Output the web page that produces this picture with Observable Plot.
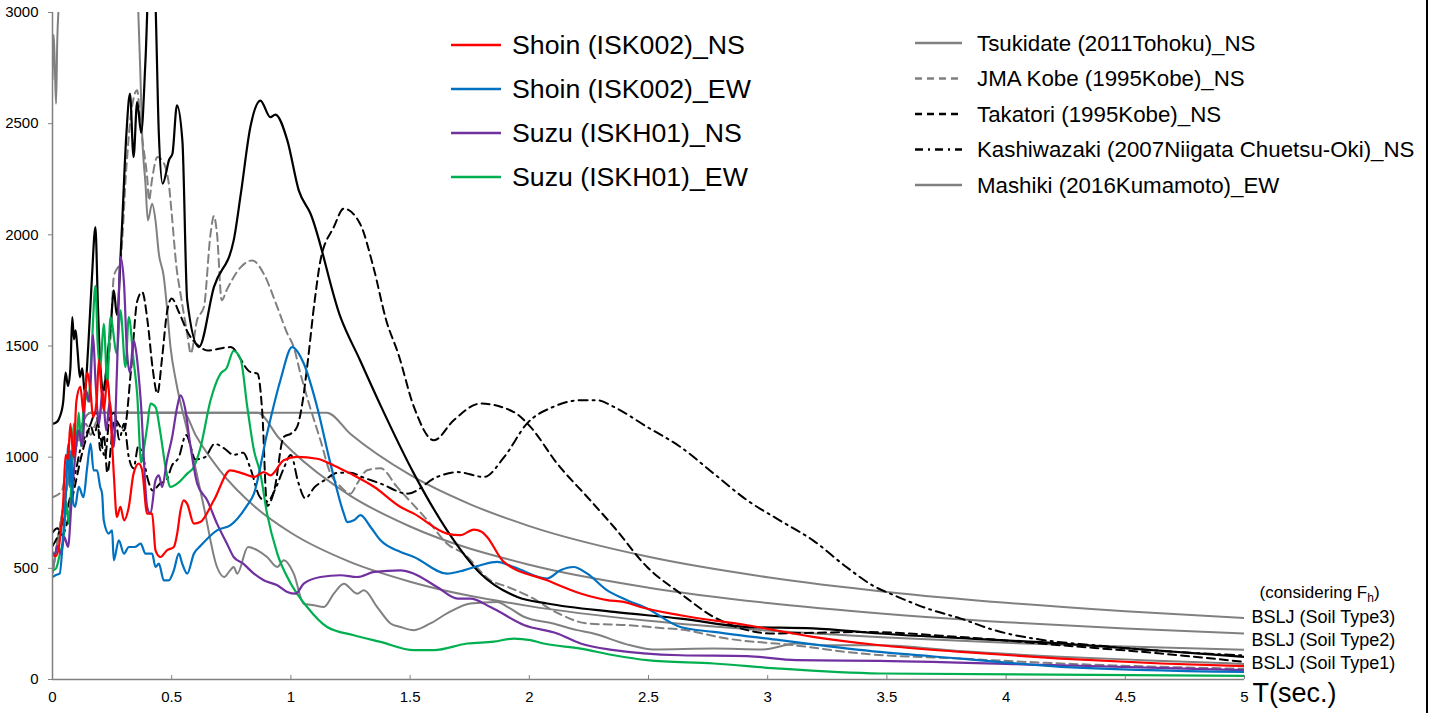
<!DOCTYPE html>
<html><head><meta charset="utf-8">
<script src="https://cdn.jsdelivr.net/npm/d3@7"></script>
<script src="https://cdn.jsdelivr.net/npm/@observablehq/plot@0.6"></script>
<style>
body{margin:0;background:#fff;font-family:"Liberation Sans",Arial,sans-serif;}
#wrap{position:relative;width:1439px;height:713px;overflow:hidden;}
#border{position:absolute;left:1426px;top:0;width:1.5px;height:713px;background:#000;}
</style></head><body><div id="wrap"><div id="border"></div></div>
<script>
// ---- tick values / labels ----
const xTicks = [0,0.5,1,1.5,2,2.5,3,3.5,4,4.5,5];
const yTicks = [0,500,1000,1500,2000,2500,3000];
const xLabel = "T(sec.)";
const bsljLabels = ["BSLJ (Soil Type3)","BSLJ (Soil Type2)","BSLJ (Soil Type1)"];
const bsljLabelY = [279, 177, 73];
const noteLabel = "(considering Fh)";
const noteLabelY = 392;

// ---- series [T (s), Sa (gal)] ----
const shoinNS = [[0,560],[0.015,555],[0.03,620],[0.045,800],[0.055,1010],[0.065,990],[0.075,1150],[0.088,1000],[0.1,1250],[0.117,1316],[0.13,1200],[0.145,1380],[0.16,1290],[0.17,1180],[0.185,1250],[0.195,1440],[0.205,1300],[0.215,1211],[0.23,1350],[0.245,1150],[0.257,926],[0.27,731],[0.285,776],[0.3,716],[0.32,776],[0.34,926],[0.362,971],[0.376,941],[0.397,746],[0.418,746],[0.432,581],[0.453,551],[0.48,581],[0.509,596],[0.523,656],[0.537,760],[0.55,806],[0.565,790],[0.593,701],[0.62,708],[0.677,806],[0.746,941],[0.80,926],[0.845,911],[0.886,933],[0.914,918],[0.97,986],[1.026,1001],[1.11,993],[1.18,963],[1.25,926],[1.35,866],[1.46,776],[1.516,746],[1.655,656],[1.711,649],[1.767,674],[1.80,665],[1.823,641],[1.893,529],[2.075,446],[2.215,387],[2.327,357],[2.396,349],[2.466,326],[2.634,289],[2.914,244],[3.19,192],[3.47,154],[3.81,124],[4.23,94],[4.65,72],[5,60]];
const shoinEW = [[0,461],[0.015,470],[0.03,476],[0.045,650],[0.055,806],[0.067,1061],[0.072,866],[0.078,1031],[0.085,806],[0.095,776],[0.11,866],[0.13,820],[0.145,950],[0.16,1061],[0.172,941],[0.187,941],[0.2,866],[0.208,836],[0.215,716],[0.236,656],[0.25,671],[0.257,536],[0.278,626],[0.3,566],[0.32,596],[0.345,596],[0.37,611],[0.39,566],[0.418,566],[0.432,506],[0.446,521],[0.467,446],[0.488,446],[0.509,491],[0.53,566],[0.544,521],[0.565,476],[0.593,566],[0.62,600],[0.69,671],[0.747,694],[0.817,784],[0.845,836],[0.9,1106],[0.956,1346],[1.005,1495],[1.054,1421],[1.11,1226],[1.166,971],[1.222,746],[1.236,708],[1.264,716],[1.292,739],[1.334,686],[1.376,626],[1.46,574],[1.516,551],[1.655,476],[1.725,491],[1.795,514],[1.865,529],[1.935,506],[2.075,454],[2.13,491],[2.186,506],[2.243,476],[2.327,401],[2.41,357],[2.494,319],[2.634,236],[2.774,214],[3.05,177],[3.47,124],[3.81,94],[4.23,57],[5,34]];
const suzuNS = [[0,574],[0.01,560],[0.02,600],[0.035,566],[0.05,640],[0.065,596],[0.08,800],[0.095,1000],[0.11,1121],[0.125,1050],[0.14,1300],[0.155,1250],[0.17,1550],[0.18,1350],[0.195,1150],[0.21,1300],[0.225,1120],[0.24,1250],[0.257,1046],[0.27,1376],[0.285,1900],[0.3,1780],[0.312,1480],[0.325,1380],[0.34,1526],[0.35,1480],[0.37,1256],[0.397,776],[0.411,746],[0.432,896],[0.446,918],[0.46,866],[0.48,986],[0.502,1091],[0.523,1226],[0.537,1278],[0.555,1226],[0.579,1046],[0.607,881],[0.649,806],[0.69,701],[0.732,611],[0.76,551],[0.8,521],[0.845,476],[0.886,446],[0.943,424],[0.985,394],[1.02,386],[1.054,431],[1.124,461],[1.208,469],[1.278,461],[1.35,484],[1.46,491],[1.516,476],[1.613,416],[1.70,364],[1.753,364],[1.837,326],[1.98,244],[2.117,207],[2.215,162],[2.355,132],[2.634,109],[2.914,105],[3.12,87],[3.47,84],[4.23,64],[5,42]];
const suzuEW = [[0,490],[0.015,500],[0.03,560],[0.048,656],[0.058,800],[0.068,700],[0.08,900],[0.09,1151],[0.1,1076],[0.11,1200],[0.12,1050],[0.135,1300],[0.15,1250],[0.165,1500],[0.18,1770],[0.19,1500],[0.2,1400],[0.215,1600],[0.23,1330],[0.243,1630],[0.27,1466],[0.285,1660],[0.306,1405],[0.32,1630],[0.34,1436],[0.355,1286],[0.372,975],[0.385,1050],[0.397,1136],[0.411,1241],[0.432,1226],[0.453,1106],[0.474,956],[0.495,866],[0.523,881],[0.565,926],[0.593,956],[0.62,1040],[0.663,1256],[0.705,1376],[0.73,1400],[0.76,1478],[0.79,1436],[0.817,1226],[0.845,1031],[0.872,926],[0.9,746],[0.943,566],[1.0,431],[1.068,326],[1.152,236],[1.264,199],[1.376,169],[1.516,132],[1.6,132],[1.74,162],[1.85,170],[1.935,184],[2.005,177],[2.06,162],[2.215,139],[2.355,109],[2.494,87],[2.774,72],[3.05,49],[3.47,27],[5,16]];
const tsukidate = [[0,2700],[0.005,2900],[0.01,2750],[0.015,2590],[0.02,2875],[0.027,3050],[0.06,3800],[0.15,4500],[0.25,4500],[0.33,3600],[0.36,3000],[0.369,2710],[0.376,2455],[0.39,2230],[0.4,2065],[0.418,2140],[0.432,2065],[0.446,1915],[0.467,1810],[0.48,1675],[0.495,1495],[0.52,1330],[0.565,1120],[0.6,950],[0.635,776],[0.69,506],[0.72,461],[0.745,491],[0.76,506],[0.775,476],[0.82,596],[0.86,581],[0.9,551],[0.943,506],[0.97,536],[1.012,476],[1.054,341],[1.096,334],[1.138,326],[1.18,386],[1.222,431],[1.278,386],[1.306,401],[1.362,326],[1.418,252],[1.46,236],[1.516,222],[1.585,252],[1.655,297],[1.753,342],[1.865,349],[1.91,326],[1.98,281],[2.10,252],[2.2,222],[2.257,210],[2.424,154],[2.52,135],[2.774,139],[2.98,135],[3.12,162],[3.25,154],[3.47,154],[3.8,128],[4.2,104],[4.6,86],[5,70]];
const jmaKobe = [[0,820],[0.02,830],[0.04,850],[0.06,950],[0.08,1000],[0.1,1050],[0.12,1100],[0.14,1150],[0.16,1100],[0.18,1150],[0.2,1200],[0.22,1350],[0.243,1526],[0.257,1810],[0.285,1885],[0.31,2305],[0.33,2550],[0.355,2650],[0.37,2485],[0.383,2380],[0.397,2260],[0.405,2155],[0.417,2245],[0.44,2350],[0.46,2335],[0.487,2237],[0.5,2095],[0.52,1855],[0.537,1735],[0.565,1556],[0.58,1466],[0.606,1615],[0.635,1675],[0.663,2005],[0.677,2085],[0.69,2005],[0.71,1705],[0.73,1750],[0.79,1855],[0.838,1885],[0.886,1825],[0.943,1675],[0.985,1556],[1.012,1495],[1.04,1376],[1.08,1226],[1.124,1076],[1.166,926],[1.21,866],[1.25,836],[1.278,881],[1.32,941],[1.376,950],[1.445,866],[1.585,701],[1.655,611],[1.725,566],[1.837,446],[1.91,416],[2.005,371],[2.117,300],[2.243,252],[2.42,244],[2.55,232],[2.634,225],[2.83,184],[3.11,154],[3.39,117],[3.81,94],[4.23,72],[5,48]];
const takatori = [[0,660],[0.02,680],[0.04,650],[0.06,700],[0.08,800],[0.1,900],[0.12,1000],[0.14,1080],[0.16,1140],[0.175,1100],[0.19,1150],[0.2,1030],[0.215,1100],[0.23,930],[0.26,1170],[0.3,1120],[0.33,1400],[0.355,1700],[0.376,1743],[0.4,1600],[0.42,1400],[0.44,1286],[0.46,1450],[0.48,1650],[0.5,1714],[0.53,1653],[0.57,1556],[0.62,1495],[0.65,1480],[0.746,1495],[0.83,1383],[0.86,1376],[0.88,1200],[0.9,780],[0.93,850],[0.97,1091],[1.0,1106],[1.026,1136],[1.05,1256],[1.068,1405],[1.1,1706],[1.124,1885],[1.18,2035],[1.222,2118],[1.29,2050],[1.346,1855],[1.40,1615],[1.45,1466],[1.516,1226],[1.6,1076],[1.683,1166],[1.795,1241],[1.935,1203],[2.005,1136],[2.117,971],[2.243,821],[2.355,686],[2.494,506],[2.634,387],[2.774,281],[2.914,222],[3.01,207],[3.2,210],[3.39,214],[3.81,191],[4.23,154],[4.65,117],[5,79]];
const kashiwazaki = [[0,600],[0.02,640],[0.04,700],[0.06,760],[0.08,850],[0.1,950],[0.12,1050],[0.14,1100],[0.16,1150],[0.18,1200],[0.2,1100],[0.22,1000],[0.24,1180],[0.26,1200],[0.28,1080],[0.3,1150],[0.32,1000],[0.34,950],[0.36,1050],[0.38,1000],[0.4,900],[0.42,850],[0.45,880],[0.48,900],[0.5,960],[0.53,1000],[0.56,1100],[0.6,990],[0.64,1000],[0.68,1060],[0.72,1040],[0.76,1010],[0.8,1020],[0.83,950],[0.87,820],[0.9,800],[0.94,870],[0.97,950],[1.0,1010],[1.03,890],[1.06,815],[1.1,866],[1.14,896],[1.2,930],[1.25,930],[1.3,910],[1.376,881],[1.49,836],[1.613,911],[1.70,933],[1.81,911],[1.895,1001],[1.99,1151],[2.10,1226],[2.215,1256],[2.285,1256],[2.355,1226],[2.494,1136],[2.634,1046],[2.774,926],[2.914,806],[3.05,716],[3.19,626],[3.33,506],[3.445,420],[3.53,379],[3.67,319],[3.81,274],[3.95,222],[4.16,177],[4.37,154],[4.7,125],[5,108]];
const mashiki = [[0,1150],[0.02,1160],[0.03,1180],[0.045,1250],[0.055,1380],[0.065,1320],[0.075,1400],[0.083,1630],[0.09,1530],[0.097,1570],[0.105,1480],[0.115,1360],[0.125,1400],[0.135,1290],[0.15,1500],[0.165,1800],[0.18,2035],[0.19,1700],[0.2,1420],[0.215,1300],[0.23,1450],[0.245,1600],[0.257,1750],[0.27,1640],[0.29,2005],[0.31,2455],[0.325,2635],[0.34,2350],[0.355,2597],[0.372,2460],[0.39,2785],[0.41,3300],[0.43,3100],[0.446,2455],[0.462,2230],[0.49,2340],[0.503,2365],[0.522,2582],[0.545,2420],[0.565,1706],[0.614,1495],[0.677,1765],[0.76,1975],[0.79,2185],[0.83,2485],[0.872,2604],[0.914,2529],[0.935,2541],[0.985,2425],[1.033,2200],[1.082,2096],[1.208,1630],[1.29,1436],[1.376,1233],[1.516,926],[1.655,671],[1.795,477],[1.95,371],[2.075,342],[2.355,304],[2.634,274],[2.914,236],[3.19,230],[3.47,207],[4.23,162],[5,102]];
const bslj1 = [[0,480],[0.16,1200],[0.55,1200],[0.6,1100],[0.7,943],[0.85,776],[1.0,660],[1.25,528],[1.5,440],[2,330],[2.5,264],[3,220],[3.5,189],[4,165],[4.5,148],[5,134]];
const bslj2 = [[0,480],[0.16,1200],[0.86,1200],[0.95,1086],[1.0,1032],[1.25,826],[1.5,688],[2,516],[2.5,413],[3,344],[3.5,295],[4,258],[4.5,229],[5,207]];
const bslj3 = [[0,480],[0.16,1200],[1.15,1200],[1.25,1104],[1.5,920],[1.75,789],[2,690],[2.5,552],[3,460],[3.5,394],[4,345],[4.5,307],[5,277]];

// ---- styles ----
const GRAY = "#808080";
const RED = "#FF0000", BLUE = "#0070C0", PURPLE = "#7030A0", GREEN = "#00B050";
const DASH = "8,5", DASHDOT = "9,5,2,5";
const FONT = '"Liberation Sans", Arial, sans-serif';

const series = [
  {name:"BSLJ (Soil Type1)", data:bslj1, stroke:GRAY, w:2, dash:null},
  {name:"BSLJ (Soil Type2)", data:bslj2, stroke:GRAY, w:2, dash:null},
  {name:"BSLJ (Soil Type3)", data:bslj3, stroke:GRAY, w:2, dash:null},
  {name:"Tsukidate (2011Tohoku)_NS", data:tsukidate, stroke:GRAY, w:2, dash:null},
  {name:"JMA Kobe (1995Kobe)_NS", data:jmaKobe, stroke:GRAY, w:2, dash:DASH},
  {name:"Takatori (1995Kobe)_NS", data:takatori, stroke:"#000", w:2, dash:DASH},
  {name:"Kashiwazaki (2007Niigata Chuetsu-Oki)_NS", data:kashiwazaki, stroke:"#000", w:2, dash:DASHDOT},
  {name:"Mashiki (2016Kumamoto)_EW", data:mashiki, stroke:"#000", w:2.2, dash:null},
  {name:"Suzu (ISKH01)_EW", data:suzuEW, stroke:GREEN, w:2.2, dash:null},
  {name:"Suzu (ISKH01)_NS", data:suzuNS, stroke:PURPLE, w:2.2, dash:null},
  {name:"Shoin (ISK002)_EW", data:shoinEW, stroke:BLUE, w:2.2, dash:null},
  {name:"Shoin (ISK002)_NS", data:shoinNS, stroke:RED, w:2.2, dash:null}
];

const legend1 = [
  {name:"Shoin (ISK002)_NS", stroke:RED, dash:null},
  {name:"Shoin (ISK002)_EW", stroke:BLUE, dash:null},
  {name:"Suzu (ISKH01)_NS", stroke:PURPLE, dash:null},
  {name:"Suzu (ISKH01)_EW", stroke:GREEN, dash:null}
];
const legend2 = [
  {name:"Tsukidate (2011Tohoku)_NS", stroke:GRAY, dash:null},
  {name:"JMA Kobe (1995Kobe)_NS", stroke:GRAY, dash:"7,5"},
  {name:"Takatori (1995Kobe)_NS", stroke:"#000", dash:"7,5"},
  {name:"Kashiwazaki (2007Niigata Chuetsu-Oki)_NS", stroke:"#000", dash:"8,5,2,5"},
  {name:"Mashiki (2016Kumamoto)_EW", stroke:GRAY, dash:null}
];

const labelRows = bsljLabels.map((label, i) => ({label, y: bsljLabelY[i]}));

const lineMarks = series.map(s => Plot.line(s.data, {
  x: d => d[0], y: d => d[1], stroke: s.stroke, strokeWidth: s.w,
  strokeDasharray: s.dash, curve: "monotone-x", clip: true
}));

const chart = Plot.plot({
  width: 1439, height: 713,
  marginLeft: 52, marginRight: 195, marginTop: 12, marginBottom: 34,
  x: {domain: [0, 5]},
  y: {domain: [0, 3000]},
  style: {fontFamily: FONT, fontSize: "15px", background: "transparent", color: "#000", overflow: "visible"},
  marks: [
    ...lineMarks,
    Plot.ruleX([0], {stroke: GRAY, strokeWidth: 1.5}),
    Plot.ruleY([0], {stroke: GRAY, strokeWidth: 1.5}),
    Plot.axisY(yTicks, {tickSize: 4, tickPadding: 10, stroke: GRAY, fill: "#000", fontSize: 15, label: null, tickFormat: d => String(d)}),
    Plot.axisX(xTicks, {tickSize: -4, tickPadding: 16, stroke: GRAY, fill: "#000", fontSize: 15, label: null, tickFormat: d => String(d)}),
    Plot.text([xLabel], {x: () => 5, y: () => 0, text: d => d, dx: 8, dy: 14, textAnchor: "start", fontSize: 27, fill: "#000"}),
    Plot.text(labelRows, {x: () => 5, y: d => d.y, text: d => d.label, dx: 7, textAnchor: "start", fontSize: 18, fill: "#000"}),
    Plot.text([noteLabel], {x: () => 5, y: () => noteLabelY, text: d => d, dx: 15, textAnchor: "start", fontSize: 17, fill: "#000"})
  ]
});

document.getElementById("wrap").appendChild(chart);
const svg = d3.select(chart.tagName.toLowerCase() === "svg" ? chart : chart.querySelector("svg"));

// subscript h in "(considering Fh)"
svg.selectAll("text").filter(function(){ return this.textContent === noteLabel; }).each(function(){
  const t = d3.select(this);
  t.text(null);
  t.append("tspan").text("(considering F");
  t.append("tspan").attr("font-size", 12).attr("dy", 4).text("h");
  t.append("tspan").attr("dy", -4).text(")");
});

// legends
function drawLegend(items, x0, x1, xt, y0, dy, fs, sw) {
  const g = svg.append("g").attr("font-family", FONT).attr("text-anchor", "start");
  items.forEach((it, i) => {
    const y = y0 + i * dy;
    g.append("line").attr("x1", x0).attr("x2", x1).attr("y1", y).attr("y2", y)
      .attr("stroke", it.stroke).attr("stroke-width", sw)
      .attr("stroke-dasharray", it.dash);
    g.append("text").attr("x", xt).attr("y", y).attr("dy", "0.35em")
      .attr("text-anchor", "start")
      .attr("font-size", fs).attr("fill", "#000").text(it.name);
  });
}
drawLegend(legend1, 451, 501, 512, 45, 44, 26.7, 2.5);
drawLegend(legend2, 915, 962, 977, 43, 35.5, 22.3, 2.5);
</script></body></html>
